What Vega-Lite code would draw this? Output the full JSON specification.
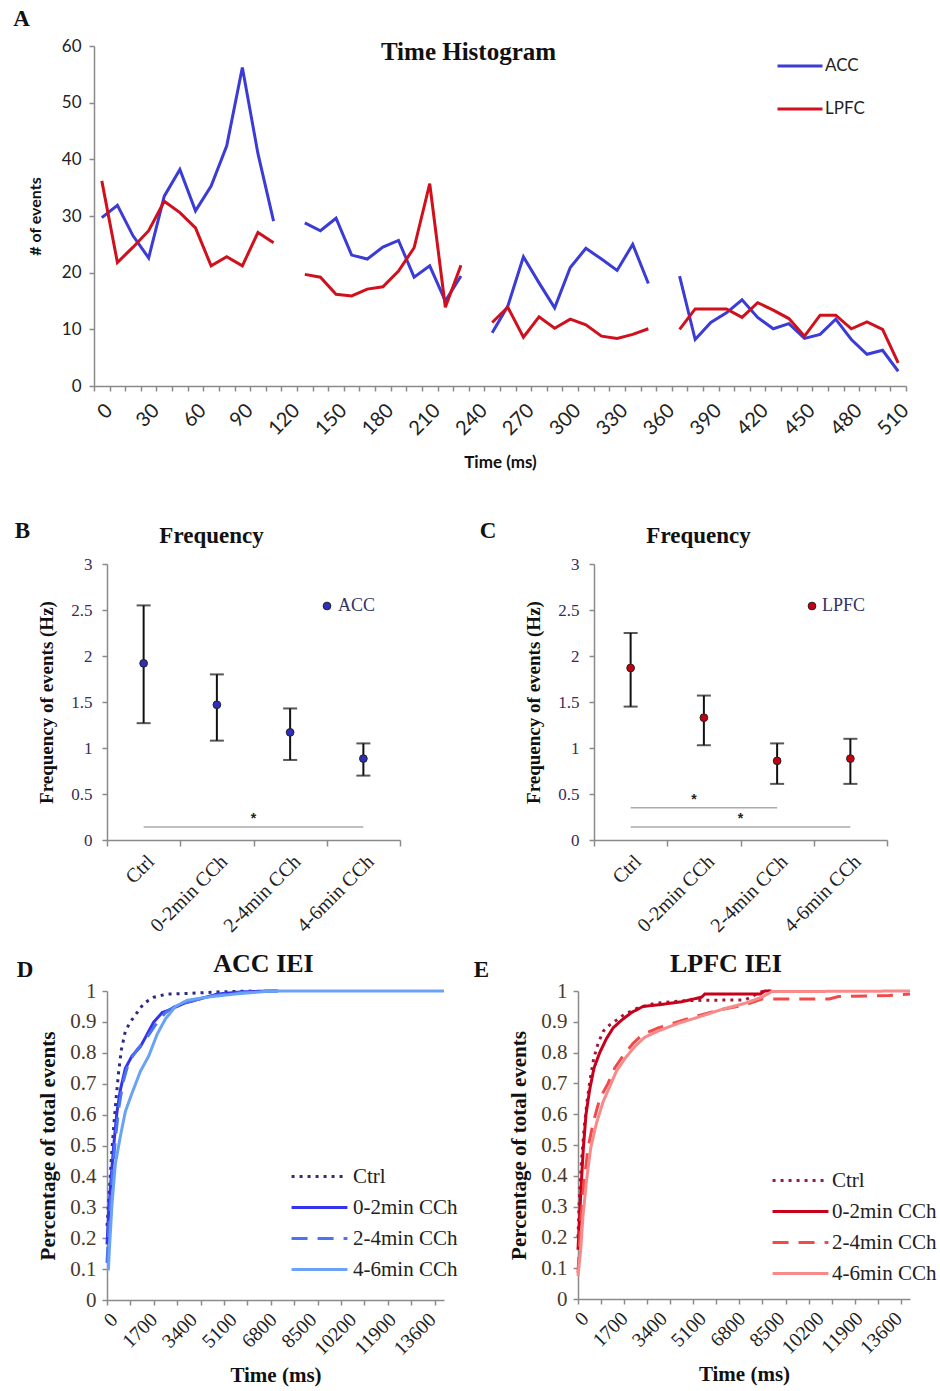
{
  "$schema": "https://vega.github.io/schema/vega-lite/v6.json",
  "background": "white",
  "padding": {"top": 8, "left": 13, "right": 0, "bottom": 5},
  "columns": 1,
  "spacing": 49,
  "config": {
    "view": {"stroke": null},
    "axis": {"grid": false, "domainColor": "#8a8a8a", "domainWidth": 1.5, "tickColor": "#8a8a8a", "tickWidth": 1.5, "tickSize": 5, "labelColor": "#222", "titleColor": "#111"},
    "title": {"color": "#111"}
  },
  "resolve": {"scale": {"x": "independent", "y": "independent", "color": "independent", "strokeDash": "independent"}},
  "datasets": {
    "hist": [
      {"t": 0, "region": "ACC", "n": 29.7}, {"t": 10, "region": "ACC", "n": 31.9}, {"t": 20, "region": "ACC", "n": 26.5}, {"t": 30, "region": "ACC", "n": 22.6},
      {"t": 40, "region": "ACC", "n": 33.5}, {"t": 50, "region": "ACC", "n": 38.2}, {"t": 60, "region": "ACC", "n": 30.9}, {"t": 70, "region": "ACC", "n": 35.3},
      {"t": 80, "region": "ACC", "n": 42.4}, {"t": 90, "region": "ACC", "n": 56.2}, {"t": 100, "region": "ACC", "n": 41.0}, {"t": 110, "region": "ACC", "n": 29.1},
      {"t": 120, "region": "ACC", "n": null}, {"t": 130, "region": "ACC", "n": 28.8}, {"t": 140, "region": "ACC", "n": 27.4}, {"t": 150, "region": "ACC", "n": 29.6},
      {"t": 160, "region": "ACC", "n": 23.1}, {"t": 170, "region": "ACC", "n": 22.4}, {"t": 180, "region": "ACC", "n": 24.5}, {"t": 190, "region": "ACC", "n": 25.7},
      {"t": 200, "region": "ACC", "n": 19.2}, {"t": 210, "region": "ACC", "n": 21.2}, {"t": 220, "region": "ACC", "n": 15.0}, {"t": 230, "region": "ACC", "n": 19.4},
      {"t": 240, "region": "ACC", "n": null}, {"t": 250, "region": "ACC", "n": 9.4}, {"t": 260, "region": "ACC", "n": 14.1}, {"t": 270, "region": "ACC", "n": 22.8},
      {"t": 280, "region": "ACC", "n": 18.2}, {"t": 290, "region": "ACC", "n": 13.8}, {"t": 300, "region": "ACC", "n": 20.9}, {"t": 310, "region": "ACC", "n": 24.3},
      {"t": 320, "region": "ACC", "n": 22.4}, {"t": 330, "region": "ACC", "n": 20.4}, {"t": 340, "region": "ACC", "n": 25.0}, {"t": 350, "region": "ACC", "n": 18.1},
      {"t": 360, "region": "ACC", "n": null}, {"t": 370, "region": "ACC", "n": 19.4}, {"t": 380, "region": "ACC", "n": 8.2}, {"t": 390, "region": "ACC", "n": 11.2},
      {"t": 400, "region": "ACC", "n": 12.9}, {"t": 410, "region": "ACC", "n": 15.2}, {"t": 420, "region": "ACC", "n": 12.1}, {"t": 430, "region": "ACC", "n": 10.1},
      {"t": 440, "region": "ACC", "n": 11.0}, {"t": 450, "region": "ACC", "n": 8.4}, {"t": 460, "region": "ACC", "n": 9.1}, {"t": 470, "region": "ACC", "n": 11.8},
      {"t": 480, "region": "ACC", "n": 8.2}, {"t": 490, "region": "ACC", "n": 5.6}, {"t": 500, "region": "ACC", "n": 6.3}, {"t": 510, "region": "ACC", "n": 2.6},
      {"t": 0, "region": "LPFC", "n": 36.2}, {"t": 10, "region": "LPFC", "n": 21.8}, {"t": 20, "region": "LPFC", "n": 24.5}, {"t": 30, "region": "LPFC", "n": 27.4},
      {"t": 40, "region": "LPFC", "n": 32.6}, {"t": 50, "region": "LPFC", "n": 30.6}, {"t": 60, "region": "LPFC", "n": 27.9}, {"t": 70, "region": "LPFC", "n": 21.2},
      {"t": 80, "region": "LPFC", "n": 22.8}, {"t": 90, "region": "LPFC", "n": 21.2}, {"t": 100, "region": "LPFC", "n": 27.1}, {"t": 110, "region": "LPFC", "n": 25.3},
      {"t": 120, "region": "LPFC", "n": null}, {"t": 130, "region": "LPFC", "n": 19.7}, {"t": 140, "region": "LPFC", "n": 19.2}, {"t": 150, "region": "LPFC", "n": 16.2},
      {"t": 160, "region": "LPFC", "n": 15.9}, {"t": 170, "region": "LPFC", "n": 17.1}, {"t": 180, "region": "LPFC", "n": 17.5}, {"t": 190, "region": "LPFC", "n": 20.3},
      {"t": 200, "region": "LPFC", "n": 24.4}, {"t": 210, "region": "LPFC", "n": 35.7}, {"t": 220, "region": "LPFC", "n": 13.9}, {"t": 230, "region": "LPFC", "n": 21.3},
      {"t": 240, "region": "LPFC", "n": null}, {"t": 250, "region": "LPFC", "n": 11.2}, {"t": 260, "region": "LPFC", "n": 13.9}, {"t": 270, "region": "LPFC", "n": 8.6},
      {"t": 280, "region": "LPFC", "n": 12.2}, {"t": 290, "region": "LPFC", "n": 10.2}, {"t": 300, "region": "LPFC", "n": 11.8}, {"t": 310, "region": "LPFC", "n": 10.8},
      {"t": 320, "region": "LPFC", "n": 8.8}, {"t": 330, "region": "LPFC", "n": 8.4}, {"t": 340, "region": "LPFC", "n": 9.1}, {"t": 350, "region": "LPFC", "n": 10.1},
      {"t": 360, "region": "LPFC", "n": null}, {"t": 370, "region": "LPFC", "n": 10.0}, {"t": 380, "region": "LPFC", "n": 13.6}, {"t": 390, "region": "LPFC", "n": 13.6},
      {"t": 400, "region": "LPFC", "n": 13.6}, {"t": 410, "region": "LPFC", "n": 12.1}, {"t": 420, "region": "LPFC", "n": 14.7}, {"t": 430, "region": "LPFC", "n": 13.4},
      {"t": 440, "region": "LPFC", "n": 11.9}, {"t": 450, "region": "LPFC", "n": 8.8}, {"t": 460, "region": "LPFC", "n": 12.5}, {"t": 470, "region": "LPFC", "n": 12.5},
      {"t": 480, "region": "LPFC", "n": 10.1}, {"t": 490, "region": "LPFC", "n": 11.3}, {"t": 500, "region": "LPFC", "n": 10.0}, {"t": 510, "region": "LPFC", "n": 4.1}
    ],
    "freq": [
      {"region": "ACC", "cond": "Ctrl", "mean": 1.92, "lo": 1.27, "hi": 2.55},
      {"region": "ACC", "cond": "0-2min CCh", "mean": 1.47, "lo": 1.08, "hi": 1.80},
      {"region": "ACC", "cond": "2-4min CCh", "mean": 1.17, "lo": 0.87, "hi": 1.43},
      {"region": "ACC", "cond": "4-6min CCh", "mean": 0.885, "lo": 0.70, "hi": 1.05},
      {"region": "LPFC", "cond": "Ctrl", "mean": 1.87, "lo": 1.45, "hi": 2.25},
      {"region": "LPFC", "cond": "0-2min CCh", "mean": 1.33, "lo": 1.03, "hi": 1.57},
      {"region": "LPFC", "cond": "2-4min CCh", "mean": 0.86, "lo": 0.61, "hi": 1.05},
      {"region": "LPFC", "cond": "4-6min CCh", "mean": 0.885, "lo": 0.61, "hi": 1.10}
    ],
    "sig": [
      {"region": "ACC", "from": "Ctrl", "to": "4-6min CCh", "level": 0.14, "mid": "0-2min CCh", "edge": "end", "label": "*"},
      {"region": "LPFC", "from": "Ctrl", "to": "2-4min CCh", "level": 0.35, "mid": "0-2min CCh", "edge": "center", "label": "*"},
      {"region": "LPFC", "from": "Ctrl", "to": "4-6min CCh", "level": 0.14, "mid": "0-2min CCh", "edge": "end", "label": "*"}
    ],
    "iei": [
      {"region": "ACC", "cond": "Ctrl", "t": 0, "p": 0.24}, {"region": "ACC", "cond": "Ctrl", "t": 30, "p": 0.27}, {"region": "ACC", "cond": "Ctrl", "t": 114, "p": 0.37},
      {"region": "ACC", "cond": "Ctrl", "t": 186, "p": 0.46}, {"region": "ACC", "cond": "Ctrl", "t": 286, "p": 0.56}, {"region": "ACC", "cond": "Ctrl", "t": 386, "p": 0.65},
      {"region": "ACC", "cond": "Ctrl", "t": 500, "p": 0.74}, {"region": "ACC", "cond": "Ctrl", "t": 614, "p": 0.81}, {"region": "ACC", "cond": "Ctrl", "t": 785, "p": 0.87},
      {"region": "ACC", "cond": "Ctrl", "t": 1000, "p": 0.90}, {"region": "ACC", "cond": "Ctrl", "t": 1285, "p": 0.93}, {"region": "ACC", "cond": "Ctrl", "t": 1571, "p": 0.96},
      {"region": "ACC", "cond": "Ctrl", "t": 2000, "p": 0.98}, {"region": "ACC", "cond": "Ctrl", "t": 2570, "p": 0.99}, {"region": "ACC", "cond": "Ctrl", "t": 3427, "p": 0.992},
      {"region": "ACC", "cond": "Ctrl", "t": 4712, "p": 0.997}, {"region": "ACC", "cond": "Ctrl", "t": 6300, "p": 1.0},
      {"region": "ACC", "cond": "0-2min CCh", "t": 0, "p": 0.18}, {"region": "ACC", "cond": "0-2min CCh", "t": 71, "p": 0.28}, {"region": "ACC", "cond": "0-2min CCh", "t": 171, "p": 0.39},
      {"region": "ACC", "cond": "0-2min CCh", "t": 286, "p": 0.50}, {"region": "ACC", "cond": "0-2min CCh", "t": 428, "p": 0.61}, {"region": "ACC", "cond": "0-2min CCh", "t": 571, "p": 0.68},
      {"region": "ACC", "cond": "0-2min CCh", "t": 785, "p": 0.75}, {"region": "ACC", "cond": "0-2min CCh", "t": 1071, "p": 0.79}, {"region": "ACC", "cond": "0-2min CCh", "t": 1428, "p": 0.82},
      {"region": "ACC", "cond": "0-2min CCh", "t": 1714, "p": 0.86}, {"region": "ACC", "cond": "0-2min CCh", "t": 2000, "p": 0.90}, {"region": "ACC", "cond": "0-2min CCh", "t": 2356, "p": 0.93},
      {"region": "ACC", "cond": "0-2min CCh", "t": 2713, "p": 0.94}, {"region": "ACC", "cond": "0-2min CCh", "t": 3284, "p": 0.96}, {"region": "ACC", "cond": "0-2min CCh", "t": 3998, "p": 0.975},
      {"region": "ACC", "cond": "0-2min CCh", "t": 4712, "p": 0.99}, {"region": "ACC", "cond": "0-2min CCh", "t": 5712, "p": 0.997}, {"region": "ACC", "cond": "0-2min CCh", "t": 6854, "p": 1.0},
      {"region": "ACC", "cond": "0-2min CCh", "t": 7300, "p": 1.0},
      {"region": "ACC", "cond": "2-4min CCh", "t": 0, "p": 0.12}, {"region": "ACC", "cond": "2-4min CCh", "t": 100, "p": 0.26}, {"region": "ACC", "cond": "2-4min CCh", "t": 214, "p": 0.39},
      {"region": "ACC", "cond": "2-4min CCh", "t": 357, "p": 0.52}, {"region": "ACC", "cond": "2-4min CCh", "t": 500, "p": 0.62}, {"region": "ACC", "cond": "2-4min CCh", "t": 685, "p": 0.705},
      {"region": "ACC", "cond": "2-4min CCh", "t": 928, "p": 0.77}, {"region": "ACC", "cond": "2-4min CCh", "t": 1285, "p": 0.81}, {"region": "ACC", "cond": "2-4min CCh", "t": 1714, "p": 0.85},
      {"region": "ACC", "cond": "2-4min CCh", "t": 2070, "p": 0.89}, {"region": "ACC", "cond": "2-4min CCh", "t": 2500, "p": 0.93}, {"region": "ACC", "cond": "2-4min CCh", "t": 3000, "p": 0.955},
      {"region": "ACC", "cond": "2-4min CCh", "t": 3713, "p": 0.97}, {"region": "ACC", "cond": "2-4min CCh", "t": 4570, "p": 0.985}, {"region": "ACC", "cond": "2-4min CCh", "t": 5712, "p": 0.995},
      {"region": "ACC", "cond": "2-4min CCh", "t": 7140, "p": 1.0}, {"region": "ACC", "cond": "2-4min CCh", "t": 7400, "p": 1.0},
      {"region": "ACC", "cond": "4-6min CCh", "t": 0, "p": 0.10}, {"region": "ACC", "cond": "4-6min CCh", "t": 60, "p": 0.10}, {"region": "ACC", "cond": "4-6min CCh", "t": 114, "p": 0.18},
      {"region": "ACC", "cond": "4-6min CCh", "t": 214, "p": 0.31}, {"region": "ACC", "cond": "4-6min CCh", "t": 357, "p": 0.44}, {"region": "ACC", "cond": "4-6min CCh", "t": 571, "p": 0.53},
      {"region": "ACC", "cond": "4-6min CCh", "t": 785, "p": 0.61}, {"region": "ACC", "cond": "4-6min CCh", "t": 1071, "p": 0.67}, {"region": "ACC", "cond": "4-6min CCh", "t": 1428, "p": 0.74},
      {"region": "ACC", "cond": "4-6min CCh", "t": 1785, "p": 0.79}, {"region": "ACC", "cond": "4-6min CCh", "t": 2142, "p": 0.86}, {"region": "ACC", "cond": "4-6min CCh", "t": 2500, "p": 0.91},
      {"region": "ACC", "cond": "4-6min CCh", "t": 2927, "p": 0.95}, {"region": "ACC", "cond": "4-6min CCh", "t": 3427, "p": 0.97}, {"region": "ACC", "cond": "4-6min CCh", "t": 4284, "p": 0.98},
      {"region": "ACC", "cond": "4-6min CCh", "t": 5427, "p": 0.99}, {"region": "ACC", "cond": "4-6min CCh", "t": 6854, "p": 0.999}, {"region": "ACC", "cond": "4-6min CCh", "t": 7500, "p": 1.0},
      {"region": "ACC", "cond": "4-6min CCh", "t": 14400, "p": 1.0},
      {"region": "LPFC", "cond": "Ctrl", "t": 0, "p": 0.20}, {"region": "LPFC", "cond": "Ctrl", "t": 60, "p": 0.33}, {"region": "LPFC", "cond": "Ctrl", "t": 145, "p": 0.44},
      {"region": "LPFC", "cond": "Ctrl", "t": 260, "p": 0.55}, {"region": "LPFC", "cond": "Ctrl", "t": 390, "p": 0.64}, {"region": "LPFC", "cond": "Ctrl", "t": 520, "p": 0.71},
      {"region": "LPFC", "cond": "Ctrl", "t": 680, "p": 0.78}, {"region": "LPFC", "cond": "Ctrl", "t": 870, "p": 0.83}, {"region": "LPFC", "cond": "Ctrl", "t": 1100, "p": 0.87},
      {"region": "LPFC", "cond": "Ctrl", "t": 1377, "p": 0.89}, {"region": "LPFC", "cond": "Ctrl", "t": 1666, "p": 0.905}, {"region": "LPFC", "cond": "Ctrl", "t": 2028, "p": 0.925},
      {"region": "LPFC", "cond": "Ctrl", "t": 2608, "p": 0.945}, {"region": "LPFC", "cond": "Ctrl", "t": 3333, "p": 0.96}, {"region": "LPFC", "cond": "Ctrl", "t": 4492, "p": 0.968},
      {"region": "LPFC", "cond": "Ctrl", "t": 5506, "p": 0.97}, {"region": "LPFC", "cond": "Ctrl", "t": 7244, "p": 0.971}, {"region": "LPFC", "cond": "Ctrl", "t": 7970, "p": 0.998},
      {"region": "LPFC", "cond": "Ctrl", "t": 8300, "p": 1.0},
      {"region": "LPFC", "cond": "0-2min CCh", "t": 0, "p": 0.16}, {"region": "LPFC", "cond": "0-2min CCh", "t": 72, "p": 0.27}, {"region": "LPFC", "cond": "0-2min CCh", "t": 145, "p": 0.38},
      {"region": "LPFC", "cond": "0-2min CCh", "t": 232, "p": 0.49}, {"region": "LPFC", "cond": "0-2min CCh", "t": 348, "p": 0.60}, {"region": "LPFC", "cond": "0-2min CCh", "t": 507, "p": 0.68},
      {"region": "LPFC", "cond": "0-2min CCh", "t": 695, "p": 0.75}, {"region": "LPFC", "cond": "0-2min CCh", "t": 942, "p": 0.80}, {"region": "LPFC", "cond": "0-2min CCh", "t": 1232, "p": 0.845},
      {"region": "LPFC", "cond": "0-2min CCh", "t": 1521, "p": 0.88}, {"region": "LPFC", "cond": "0-2min CCh", "t": 1884, "p": 0.905}, {"region": "LPFC", "cond": "0-2min CCh", "t": 2318, "p": 0.93},
      {"region": "LPFC", "cond": "0-2min CCh", "t": 2826, "p": 0.95}, {"region": "LPFC", "cond": "0-2min CCh", "t": 3478, "p": 0.955}, {"region": "LPFC", "cond": "0-2min CCh", "t": 4492, "p": 0.965},
      {"region": "LPFC", "cond": "0-2min CCh", "t": 5362, "p": 0.98}, {"region": "LPFC", "cond": "0-2min CCh", "t": 5500, "p": 0.99}, {"region": "LPFC", "cond": "0-2min CCh", "t": 7900, "p": 0.99},
      {"region": "LPFC", "cond": "0-2min CCh", "t": 8100, "p": 1.0}, {"region": "LPFC", "cond": "0-2min CCh", "t": 8400, "p": 1.0},
      {"region": "LPFC", "cond": "2-4min CCh", "t": 0, "p": 0.085}, {"region": "LPFC", "cond": "2-4min CCh", "t": 116, "p": 0.25}, {"region": "LPFC", "cond": "2-4min CCh", "t": 261, "p": 0.38},
      {"region": "LPFC", "cond": "2-4min CCh", "t": 435, "p": 0.49}, {"region": "LPFC", "cond": "2-4min CCh", "t": 652, "p": 0.57}, {"region": "LPFC", "cond": "2-4min CCh", "t": 942, "p": 0.65},
      {"region": "LPFC", "cond": "2-4min CCh", "t": 1304, "p": 0.70}, {"region": "LPFC", "cond": "2-4min CCh", "t": 1594, "p": 0.75}, {"region": "LPFC", "cond": "2-4min CCh", "t": 1956, "p": 0.79},
      {"region": "LPFC", "cond": "2-4min CCh", "t": 2391, "p": 0.83}, {"region": "LPFC", "cond": "2-4min CCh", "t": 2826, "p": 0.86}, {"region": "LPFC", "cond": "2-4min CCh", "t": 3478, "p": 0.88},
      {"region": "LPFC", "cond": "2-4min CCh", "t": 4347, "p": 0.90}, {"region": "LPFC", "cond": "2-4min CCh", "t": 5217, "p": 0.92}, {"region": "LPFC", "cond": "2-4min CCh", "t": 6231, "p": 0.94},
      {"region": "LPFC", "cond": "2-4min CCh", "t": 7245, "p": 0.955}, {"region": "LPFC", "cond": "2-4min CCh", "t": 7970, "p": 0.974}, {"region": "LPFC", "cond": "2-4min CCh", "t": 10900, "p": 0.974},
      {"region": "LPFC", "cond": "2-4min CCh", "t": 11300, "p": 0.982}, {"region": "LPFC", "cond": "2-4min CCh", "t": 13500, "p": 0.985}, {"region": "LPFC", "cond": "2-4min CCh", "t": 14400, "p": 0.99},
      {"region": "LPFC", "cond": "4-6min CCh", "t": 0, "p": 0.074}, {"region": "LPFC", "cond": "4-6min CCh", "t": 116, "p": 0.16}, {"region": "LPFC", "cond": "4-6min CCh", "t": 217, "p": 0.27},
      {"region": "LPFC", "cond": "4-6min CCh", "t": 362, "p": 0.38}, {"region": "LPFC", "cond": "4-6min CCh", "t": 551, "p": 0.49}, {"region": "LPFC", "cond": "4-6min CCh", "t": 797, "p": 0.57},
      {"region": "LPFC", "cond": "4-6min CCh", "t": 1087, "p": 0.64}, {"region": "LPFC", "cond": "4-6min CCh", "t": 1377, "p": 0.69}, {"region": "LPFC", "cond": "4-6min CCh", "t": 1666, "p": 0.74},
      {"region": "LPFC", "cond": "4-6min CCh", "t": 2028, "p": 0.78}, {"region": "LPFC", "cond": "4-6min CCh", "t": 2463, "p": 0.82}, {"region": "LPFC", "cond": "4-6min CCh", "t": 2898, "p": 0.85},
      {"region": "LPFC", "cond": "4-6min CCh", "t": 3478, "p": 0.87}, {"region": "LPFC", "cond": "4-6min CCh", "t": 4347, "p": 0.895}, {"region": "LPFC", "cond": "4-6min CCh", "t": 5217, "p": 0.915},
      {"region": "LPFC", "cond": "4-6min CCh", "t": 6231, "p": 0.94}, {"region": "LPFC", "cond": "4-6min CCh", "t": 7245, "p": 0.96}, {"region": "LPFC", "cond": "4-6min CCh", "t": 7970, "p": 0.98},
      {"region": "LPFC", "cond": "4-6min CCh", "t": 8405, "p": 0.998}, {"region": "LPFC", "cond": "4-6min CCh", "t": 14400, "p": 1.0}
    ]
  },
  "concat": [
    {
      "hconcat": [
        {
          "title": {"text": "A", "anchor": "start", "font": "Liberation Serif", "fontSize": 23, "fontWeight": "bold", "dx": -14, "offset": 6},
          "vconcat": [
            {
              "width": 799, "height": 340,
              "title": {"text": "Time Histogram", "font": "Liberation Serif", "fontSize": 25, "fontWeight": "bold", "dx": -38, "offset": -28},
              "data": {"name": "hist"},
              "mark": {"type": "line", "strokeWidth": 3, "invalid": "break-paths-show-domains"},
              "encoding": {
                "x": {"field": "t", "type": "quantitative", "title": "Time (ms)",
                  "scale": {"domain": [-5, 515], "range": [-13, 799], "nice": false, "zero": false},
                  "axis": {
                    "values": [-5, 0, 5, 15, 25, 30, 35, 45, 55, 60, 65, 75, 85, 90, 95, 105, 115, 120, 125, 135, 145, 150, 155, 165, 175, 180, 185, 195, 205, 210, 215, 225, 235, 240, 245, 255, 265, 270, 275, 285, 295, 300, 305, 315, 325, 330, 335, 345, 355, 360, 365, 375, 385, 390, 395, 405, 415, 420, 425, 435, 445, 450, 455, 465, 475, 480, 485, 495, 505, 510, 515],
                    "format": "d",
                    "labelExpr": "datum.value % 30 === 0 ? datum.label : ''",
                    "tickOpacity": {"condition": {"test": "abs(datum.value % 10) === 5", "value": 1}, "value": 0},
                    "labelAngle": -45, "labelOverlap": false, "labelFont": "Lato", "labelFontSize": 20, "labelPadding": 9,
                    "titleFont": "Lato", "titleFontSize": 17, "titleFontWeight": "bold", "titlePadding": 16
                  }},
                "y": {"field": "n", "type": "quantitative", "title": "# of events",
                  "scale": {"domain": [0, 60], "nice": false},
                  "axis": {"offset": 13, "values": [0, 10, 20, 30, 40, 50, 60], "labelFont": "Lato", "labelFontSize": 17, "labelPadding": 8,
                    "titleFont": "Lato", "titleFontSize": 16, "titleFontWeight": "bold", "titlePadding": 18}},
                "color": {"field": "region", "type": "nominal", "scale": {"domain": ["ACC", "LPFC"], "range": ["#3b3bd6", "#d0101c"]},
                  "legend": {"orient": "none", "legendX": 669, "legendY": -4, "title": null, "symbolType": "stroke", "symbolSize": 2025, "symbolStrokeWidth": 3,
                    "rowPadding": 11, "padding": 0, "labelFont": "Lato", "labelFontSize": 17, "labelColor": "#222", "labelOffset": 1}}
              }
            }
          ]
        }
      ]
    },
    {
      "spacing": 15,
      "resolve": {"scale": {"x": "independent", "y": "independent", "color": "independent", "strokeDash": "independent"}},
      "vconcat": [
        {
          "hconcat": [
            {
              "title": {"text": "B", "anchor": "start", "font": "Liberation Serif", "fontSize": 23, "fontWeight": "bold", "dx": -23, "dy": 22},
              "vconcat": [
                {
                  "width": 293, "height": 276,
                  "title": {"text": "Frequency", "font": "Liberation Serif", "fontSize": 23, "fontWeight": "bold", "dx": -42, "offset": 7},
                  "data": {"name": "freq"},
                  "transform": [{"filter": "datum.region === 'ACC'"}],
                  "encoding": {
                    "x": {"field": "cond", "type": "nominal", "title": null, "sort": ["Ctrl", "0-2min CCh", "2-4min CCh", "4-6min CCh"],
                      "scale": {"type": "band", "domain": ["Ctrl", "0-2min CCh", "2-4min CCh", "4-6min CCh"], "paddingInner": 0, "paddingOuter": 0},
                      "axis": {"tickBand": "extent", "labelAngle": -45, "labelFont": "Liberation Serif", "labelFontSize": 20, "labelPadding": 5, "tickSize": 6}}
                  },
                  "layer": [
                    {"mark": {"type": "rule", "strokeWidth": 2, "color": "#111"},
                      "encoding": {"y": {"field": "lo", "type": "quantitative", "title": "Frequency of events (Hz)", "scale": {"domain": [0, 3], "nice": false},
                        "axis": {"values": [0, 0.5, 1, 1.5, 2, 2.5, 3], "format": "~g", "labelFont": "Liberation Serif", "labelFontSize": 17, "labelColor": "#3a2a5a", "labelPadding": 10,
                          "titleFont": "Liberation Serif", "titleFontSize": 19, "titleFontWeight": "bold", "titlePadding": 14}},
                        "y2": {"field": "hi"}}},
                    {"mark": {"type": "tick", "thickness": 2, "size": 14, "color": "#111"}, "encoding": {"y": {"field": "lo", "type": "quantitative"}}},
                    {"mark": {"type": "tick", "thickness": 2, "size": 14, "color": "#111"}, "encoding": {"y": {"field": "hi", "type": "quantitative"}}},
                    {"mark": {"type": "point", "filled": true, "size": 60, "stroke": "#222", "strokeWidth": 1, "opacity": 1},
                      "encoding": {"y": {"field": "mean", "type": "quantitative"},
                        "color": {"field": "region", "type": "nominal", "scale": {"domain": ["ACC"], "range": ["#2e2ebc"]},
                          "legend": {"orient": "none", "legendX": 211, "legendY": 33, "title": null, "symbolType": "circle", "symbolSize": 60, "symbolStrokeColor": "#222", "symbolStrokeWidth": 1,
                            "symbolFillColor": "#2e2ebc", "padding": 0, "labelFont": "Liberation Serif", "labelFontSize": 18, "labelColor": "#333366", "labelOffset": 2}}}},
                    {"data": {"name": "sig"}, "transform": [{"filter": "datum.region === 'ACC'"}],
                      "mark": {"type": "rule", "color": "#aaaaaa", "strokeWidth": 1.5},
                      "encoding": {"x": {"field": "from", "type": "nominal", "scale": {"domain": ["Ctrl", "0-2min CCh", "2-4min CCh", "4-6min CCh"]}}, "x2": {"field": "to"}, "y": {"field": "level", "type": "quantitative"}}},
                    {"data": {"name": "sig"}, "transform": [{"filter": "datum.region === 'ACC'"}],
                      "mark": {"type": "text", "fontSize": 14, "fontWeight": "bold", "color": "#222", "baseline": "middle", "dy": -8},
                      "encoding": {"x": {"field": "mid", "type": "nominal", "bandPosition": 1}, "y": {"field": "level", "type": "quantitative"}, "text": {"field": "label"}}}
                  ]
                }
              ]
            },
            {
              "title": {"text": "C", "anchor": "start", "font": "Liberation Serif", "fontSize": 23, "fontWeight": "bold", "dx": -45, "dy": 22},
              "vconcat": [
                {
                  "width": 293, "height": 276,
                  "title": {"text": "Frequency", "font": "Liberation Serif", "fontSize": 23, "fontWeight": "bold", "dx": -42, "offset": 7},
                  "data": {"name": "freq"},
                  "transform": [{"filter": "datum.region === 'LPFC'"}],
                  "encoding": {
                    "x": {"field": "cond", "type": "nominal", "title": null, "sort": ["Ctrl", "0-2min CCh", "2-4min CCh", "4-6min CCh"],
                      "scale": {"type": "band", "domain": ["Ctrl", "0-2min CCh", "2-4min CCh", "4-6min CCh"], "paddingInner": 0, "paddingOuter": 0},
                      "axis": {"tickBand": "extent", "labelAngle": -45, "labelFont": "Liberation Serif", "labelFontSize": 20, "labelPadding": 5, "tickSize": 6}}
                  },
                  "layer": [
                    {"mark": {"type": "rule", "strokeWidth": 2, "color": "#111"},
                      "encoding": {"y": {"field": "lo", "type": "quantitative", "title": "Frequency of events (Hz)", "scale": {"domain": [0, 3], "nice": false},
                        "axis": {"values": [0, 0.5, 1, 1.5, 2, 2.5, 3], "format": "~g", "labelFont": "Liberation Serif", "labelFontSize": 17, "labelColor": "#3a2a5a", "labelPadding": 10,
                          "titleFont": "Liberation Serif", "titleFontSize": 19, "titleFontWeight": "bold", "titlePadding": 14}},
                        "y2": {"field": "hi"}}},
                    {"mark": {"type": "tick", "thickness": 2, "size": 14, "color": "#111"}, "encoding": {"y": {"field": "lo", "type": "quantitative"}}},
                    {"mark": {"type": "tick", "thickness": 2, "size": 14, "color": "#111"}, "encoding": {"y": {"field": "hi", "type": "quantitative"}}},
                    {"mark": {"type": "point", "filled": true, "size": 60, "stroke": "#222", "strokeWidth": 1, "opacity": 1},
                      "encoding": {"y": {"field": "mean", "type": "quantitative"},
                        "color": {"field": "region", "type": "nominal", "scale": {"domain": ["LPFC"], "range": ["#c40010"]},
                          "legend": {"orient": "none", "legendX": 209, "legendY": 33, "title": null, "symbolType": "circle", "symbolSize": 60, "symbolStrokeColor": "#222", "symbolStrokeWidth": 1,
                            "symbolFillColor": "#c40010", "padding": 0, "labelFont": "Liberation Serif", "labelFontSize": 18, "labelColor": "#333366", "labelOffset": 1}}}},
                    {"data": {"name": "sig"}, "transform": [{"filter": "datum.region === 'LPFC'"}],
                      "mark": {"type": "rule", "color": "#aaaaaa", "strokeWidth": 1.5},
                      "encoding": {"x": {"field": "from", "type": "nominal", "scale": {"domain": ["Ctrl", "0-2min CCh", "2-4min CCh", "4-6min CCh"]}}, "x2": {"field": "to"}, "y": {"field": "level", "type": "quantitative"}}},
                    {"data": {"name": "sig"}, "transform": [{"filter": "datum.region === 'LPFC' && datum.edge === 'end'"}],
                      "mark": {"type": "text", "fontSize": 14, "fontWeight": "bold", "color": "#222", "baseline": "middle", "dy": -8},
                      "encoding": {"x": {"field": "mid", "type": "nominal", "bandPosition": 1}, "y": {"field": "level", "type": "quantitative"}, "text": {"field": "label"}}},
                    {"data": {"name": "sig"}, "transform": [{"filter": "datum.region === 'LPFC' && datum.edge === 'center'"}],
                      "mark": {"type": "text", "fontSize": 14, "fontWeight": "bold", "color": "#222", "baseline": "middle", "dy": -8, "dx": -10},
                      "encoding": {"x": {"field": "mid", "type": "nominal", "bandPosition": 0.5}, "y": {"field": "level", "type": "quantitative"}, "text": {"field": "label"}}}
                  ]
                }
              ]
            }
          ],
          "spacing": 78,
          "resolve": {"scale": {"x": "independent", "y": "independent", "color": "independent"}}
        },
        {
          "hconcat": [
            {
              "title": {"text": "D", "anchor": "start", "font": "Liberation Serif", "fontSize": 23, "fontWeight": "bold", "dx": -21, "dy": 35},
              "vconcat": [
                {
                  "width": 337, "height": 309,
                  "title": {"text": "ACC IEI", "font": "Liberation Serif", "fontSize": 26, "fontWeight": "bold", "dx": -12, "offset": 3},
                  "data": {"name": "iei"},
                  "transform": [{"filter": "datum.region === 'ACC'"}],
                  "mark": {"type": "line", "strokeWidth": 3, "strokeCap": "butt"},
                  "encoding": {
                    "x": {"field": "t", "type": "quantitative", "title": "Time (ms)", "scale": {"domain": [0, 14400], "nice": false},
                      "axis": {"values": [0, 1000, 1700, 2000, 3000, 3400, 4000, 5000, 5100, 6000, 6800, 7000, 8000, 8500, 9000, 10000, 10200, 11000, 11900, 12000, 13000, 13600, 14000],
                        "format": "d", "labelExpr": "datum.value % 1700 === 0 ? datum.label : ''",
                        "tickOpacity": {"condition": {"test": "datum.value % 1000 === 0", "value": 1}, "value": 0},
                        "labelAngle": -45, "labelOverlap": false, "labelFont": "Liberation Serif", "labelFontSize": 20, "labelPadding": 4,
                        "titleFont": "Liberation Serif", "titleFontSize": 21, "titleFontWeight": "bold", "titlePadding": 6}},
                    "y": {"field": "p", "type": "quantitative", "title": "Percentage  of total events", "scale": {"domain": [0, 1], "nice": false},
                      "axis": {"values": [0, 0.1, 0.2, 0.3, 0.4, 0.5, 0.6, 0.7, 0.8, 0.9, 1], "format": "~g", "labelFont": "Liberation Serif", "labelFontSize": 21, "labelColor": "#4a3a2a", "labelPadding": 6,
                        "titleFont": "Liberation Serif", "titleFontSize": 21, "titleFontWeight": "bold", "titlePadding": 11}},
                    "color": {"field": "cond", "type": "nominal", "sort": ["Ctrl", "0-2min CCh", "2-4min CCh", "4-6min CCh"],
                      "scale": {"domain": ["Ctrl", "0-2min CCh", "2-4min CCh", "4-6min CCh"], "range": ["#2b2b80", "#3434ec", "#4a74f0", "#6aa2f6"]},
                      "legend": {"orient": "none", "legendX": 192, "legendY": 165, "title": null, "symbolType": "M-1.47,0H1.47", "symbolSize": 1444, "symbolStrokeWidth": 3,
                        "rowPadding": 0, "padding": 0, "labelFont": "Liberation Serif", "labelFontSize": 21, "labelColor": "#222", "labelOffset": 13}},
                    "strokeDash": {"field": "cond", "type": "nominal", "sort": ["Ctrl", "0-2min CCh", "2-4min CCh", "4-6min CCh"],
                      "scale": {"domain": ["Ctrl", "0-2min CCh", "2-4min CCh", "4-6min CCh"], "range": [[3, 5], [1, 0], [16, 10], [1, 0]]},
                      "legend": {"orient": "none", "legendX": 192, "legendY": 165, "title": null, "symbolType": "M-1.47,0H1.47", "symbolSize": 1444, "symbolStrokeWidth": 3,
                        "rowPadding": 0, "padding": 0, "labelFont": "Liberation Serif", "labelFontSize": 21, "labelColor": "#222", "labelOffset": 13}}
                  }
                }
              ]
            },
            {
              "title": {"text": "E", "anchor": "start", "font": "Liberation Serif", "fontSize": 23, "fontWeight": "bold", "dx": -35, "dy": 35},
              "vconcat": [
                {
                  "width": 332, "height": 308,
                  "title": {"text": "LPFC IEI", "font": "Liberation Serif", "fontSize": 26, "fontWeight": "bold", "dx": -18, "offset": 3},
                  "data": {"name": "iei"},
                  "transform": [{"filter": "datum.region === 'LPFC'"}],
                  "mark": {"type": "line", "strokeWidth": 3, "strokeCap": "butt"},
                  "encoding": {
                    "x": {"field": "t", "type": "quantitative", "title": "Time (ms)", "scale": {"domain": [0, 14400], "nice": false},
                      "axis": {"values": [0, 1000, 1700, 2000, 3000, 3400, 4000, 5000, 5100, 6000, 6800, 7000, 8000, 8500, 9000, 10000, 10200, 11000, 11900, 12000, 13000, 13600, 14000],
                        "format": "d", "labelExpr": "datum.value % 1700 === 0 ? datum.label : ''",
                        "tickOpacity": {"condition": {"test": "datum.value % 1000 === 0", "value": 1}, "value": 0},
                        "labelAngle": -45, "labelOverlap": false, "labelFont": "Liberation Serif", "labelFontSize": 20, "labelPadding": 4,
                        "titleFont": "Liberation Serif", "titleFontSize": 21, "titleFontWeight": "bold", "titlePadding": 6}},
                    "y": {"field": "p", "type": "quantitative", "title": "Percentage  of total events", "scale": {"domain": [0, 1], "nice": false},
                      "axis": {"values": [0, 0.1, 0.2, 0.3, 0.4, 0.5, 0.6, 0.7, 0.8, 0.9, 1], "format": "~g", "labelFont": "Liberation Serif", "labelFontSize": 21, "labelColor": "#4a3a2a", "labelPadding": 6,
                        "titleFont": "Liberation Serif", "titleFontSize": 21, "titleFontWeight": "bold", "titlePadding": 11}},
                    "color": {"field": "cond", "type": "nominal", "sort": ["Ctrl", "0-2min CCh", "2-4min CCh", "4-6min CCh"],
                      "scale": {"domain": ["Ctrl", "0-2min CCh", "2-4min CCh", "4-6min CCh"], "range": ["#9b1b3a", "#c8001c", "#f04a4a", "#f88a8a"]},
                      "legend": {"orient": "none", "legendX": 202, "legendY": 169, "title": null, "symbolType": "M-1.47,0H1.47", "symbolSize": 1444, "symbolStrokeWidth": 3,
                        "rowPadding": 0, "padding": 0, "labelFont": "Liberation Serif", "labelFontSize": 21, "labelColor": "#222", "labelOffset": 11}},
                    "strokeDash": {"field": "cond", "type": "nominal", "sort": ["Ctrl", "0-2min CCh", "2-4min CCh", "4-6min CCh"],
                      "scale": {"domain": ["Ctrl", "0-2min CCh", "2-4min CCh", "4-6min CCh"], "range": [[3, 5], [1, 0], [16, 10], [1, 0]]},
                      "legend": {"orient": "none", "legendX": 202, "legendY": 169, "title": null, "symbolType": "M-1.47,0H1.47", "symbolSize": 1444, "symbolStrokeWidth": 3,
                        "rowPadding": 0, "padding": 0, "labelFont": "Liberation Serif", "labelFontSize": 21, "labelColor": "#222", "labelOffset": 11}}
                  }
                }
              ]
            }
          ],
          "spacing": 15,
          "resolve": {"scale": {"x": "independent", "y": "independent", "color": "independent", "strokeDash": "independent"}}
        }
      ]
    }
  ]
}
